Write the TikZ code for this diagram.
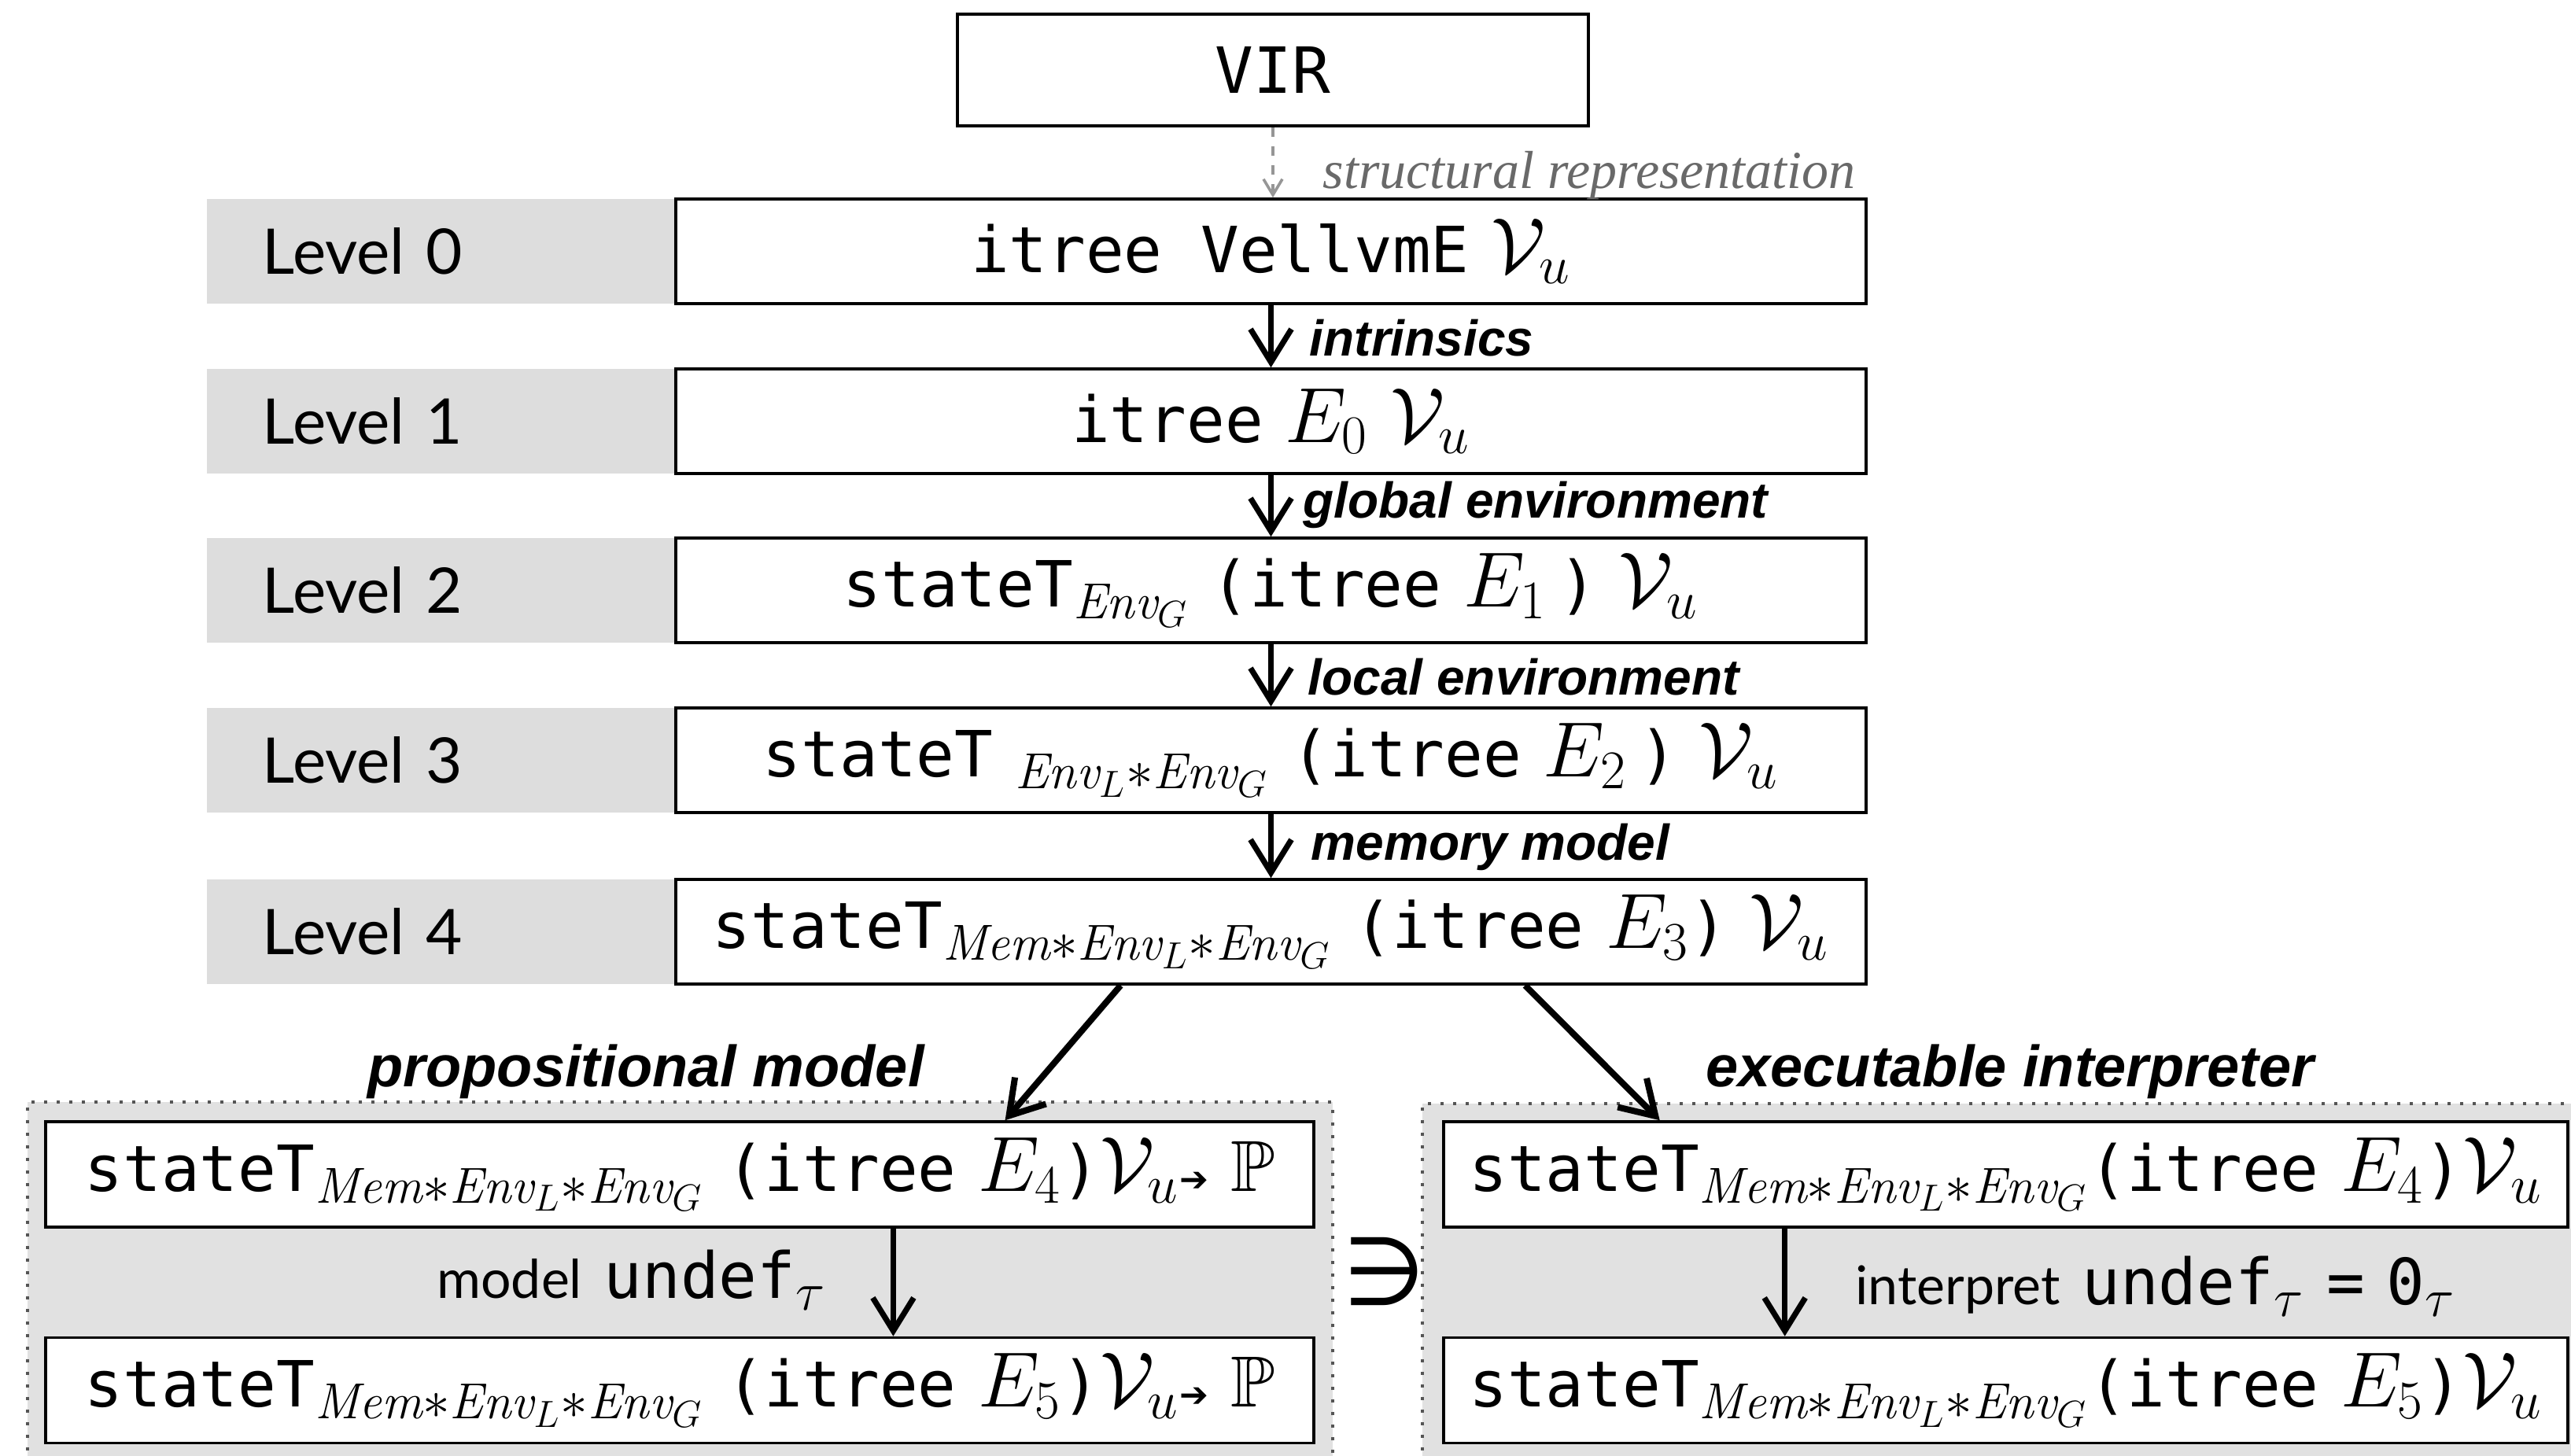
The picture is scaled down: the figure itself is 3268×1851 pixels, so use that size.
\documentclass[tikz,border=0pt]{standalone}
\usepackage{fontspec}
\usepackage{amssymb}
\setmonofont[Scale=0.88]{DejaVu Sans Mono}
\newfontfamily\lvlfont{Lato}
\newfontfamily\arlfont{Liberation Sans}
\newfontfamily\srfont{Liberation Serif}
\newfontfamily\symfont{DejaVu Sans}
\usetikzlibrary{arrows.meta,calc}
\definecolor{lvgrey}{RGB}{221,221,221}
\definecolor{rggrey}{RGB}{225,225,225}
\definecolor{dotgrey}{RGB}{85,85,85}
\definecolor{srgrey}{RGB}{105,105,105}
\definecolor{dagrey}{RGB}{150,150,150}
\newcommand{\myVu}{\mathcal{V}_{u}}
\newcommand{\myTT}[1]{\texttt{#1}}
\newcommand{\mySubA}{_{\mathit{Env}_G}}
\newcommand{\mySubB}{_{\mathit{Env}_L\ast\mathit{Env}_G}}
\newcommand{\mySubC}{_{\mathit{Mem}\ast\mathit{Env}_L\ast\mathit{Env}_G}}
\newcommand{\mySmallArr}{{\symfont\fontsize{11}{11}\selectfont ➔}}
\begin{document}
\begin{tikzpicture}[x=0.25pt,y=-0.25pt,
  box/.style={draw=black, line width=0.9pt, fill=white, inner sep=0pt, font=\fontsize{23}{27}\selectfont},
  lvbox/.style={box, minimum width=378.25pt, minimum height=33.25pt},
  lowbox/.style={box, minimum height=33.5pt},
  lvl/.style={fill=lvgrey, anchor=west, minimum height=33.25pt, inner xsep=17.75pt, inner ysep=0pt, text width=113.75pt, align=left, font=\lvlfont\fontsize{20}{24}\selectfont},
  region/.style={fill=rggrey, draw=dotgrey, line width=1pt, dash pattern=on 1pt off 3pt, inner sep=0pt},
  arlab/.style={font=\arlfont\bfseries\itshape\fontsize{16}{19}\selectfont, inner sep=0pt, anchor=west},
  head/.style={font=\arlfont\bfseries\itshape\fontsize{18.5}{22}\selectfont, inner sep=0pt},
  midlab/.style={inner sep=0pt, font=\fontsize{23}{27}\selectfont},
  arr/.style={-{Straight Barb[length=10.5pt,width=13pt]}, line width=1.8pt},
  darr2/.style={-{Straight Barb[length=10.5pt,width=13pt]}, line width=2pt},
  darr/.style={-{Straight Barb[length=5pt,width=6pt]}, line width=0.9pt, dagrey, dashed}
]
\useasboundingbox (0,0) rectangle (3268,1851);

% bottom regions
\node[region, minimum width=414.75pt, minimum height=124.75pt] (regL) at (864.5,1650.5) {};
\node[region, minimum width=373pt, minimum height=124.75pt] (regR) at (2554,1652.5) {};

% top
\node[box, minimum width=200.5pt, minimum height=35.5pt] (vir) at (1618,89) {\myTT{VIR}};

% level labels
\node[lvl] (g0) at (262,319.5) {Level 0};
\node[lvl] (g1) at (262,535.5) {Level 1};
\node[lvl] (g2) at (262,750.5) {Level 2};
\node[lvl] (g3) at (262,966.5) {Level 3};
\node[lvl] (g4) at (262,1184.5) {Level 4};

% level boxes
\node[lvbox] (l0) at (1615.5,319.5) {\myTT{itree VellvmE} $\myVu$};
\node[lvbox] (l1) at (1615.5,535.5) {\myTT{itree} $E_0$ $\myVu$};
\node[lvbox] (l2) at (1615.5,750.5) {\myTT{stateT}$\mySubA$ \myTT{(itree} $E_1$\,\myTT{)} $\myVu$};
\node[lvbox] (l3) at (1615.5,966.5) {\myTT{stateT} $\mySubB$ \myTT{(itree} $E_2$\,\myTT{)} $\myVu$};
\node[lvbox] (l4) at (1615.5,1184.5) {\myTT{stateT}$\mySubC$ \myTT{(itree} $E_3$\myTT{)} $\myVu$};

% lower boxes
\node[lowbox, minimum width=403pt] (pl1) at (864,1493) {\myTT{stateT}$\mySubC$ \myTT{(itree} $E_4$\myTT{)}$\myVu$\mySmallArr\ $\mathbb{P}$};
\node[lowbox, minimum width=403pt] (pl2) at (864,1767.5) {\myTT{stateT}$\mySubC$ \myTT{(itree} $E_5$\myTT{)}$\myVu$\mySmallArr\ $\mathbb{P}$};
\node[lowbox, minimum width=357.25pt] (pr1) at (2549.5,1493) {\myTT{stateT}$\mySubC$\myTT{(itree} $E_4$\myTT{)}$\myVu$};
\node[lowbox, minimum width=357.25pt] (pr2) at (2549.5,1767.5) {\myTT{stateT}$\mySubC$\myTT{(itree} $E_5$\myTT{)}$\myVu$};

% connectors
\draw[darr] (vir.south) -- (vir.south |- l0.north);
\draw[arr] (l0) -- (l1);
\draw[arr] (l1) -- (l2);
\draw[arr] (l2) -- (l3);
\draw[arr] (l3) -- (l4);
\draw[darr2] ($(l4.south west)!0.374!(l4.south east)$) -- ($(pl1.north west)!0.756!(pl1.north east)$);
\draw[darr2] ($(l4.south west)!0.713!(l4.south east)$) -- ($(pr1.north west)!0.193!(pr1.north east)$);
\draw[arr] ($(pl1.south west)!0.668!(pl1.south east)$) -- ($(pl2.north west)!0.668!(pl2.north east)$);
\draw[arr] ($(pr1.south west)!0.304!(pr1.south east)$) -- ($(pr2.north west)!0.304!(pr2.north east)$);

% labels
\node[anchor=base west, inner sep=0pt, text=srgrey, font=\srfont\itshape\fontsize{17}{20}\selectfont] (sr) at (1681,240) {structural representation};
\node[arlab] (t0) at (1664,430) {intrinsics};
\node[arlab] (t1) at (1656,642) {global environment};
\node[arlab] (t2) at (1662,861) {local environment};
\node[arlab] (t3) at (1666,1077) {memory model};
\node[head] (h1) at (821,1362) {propositional model};
\node[head] (h2) at (2555,1362) {executable interpreter};
\node[midlab] (ml) at (803,1627) {{\lvlfont\fontsize{17}{20}\selectfont model}\ \myTT{undef}$_\tau$};
\node[midlab] (il) at (2740,1635) {{\lvlfont\fontsize{17}{20}\selectfont interpret}\ \myTT{undef}$_\tau$ \myTT{=} \myTT{0}$_\tau$};
\node[inner sep=0pt, font=\symfont\fontsize{30}{30}\selectfont] (ni) at (1760,1616) {∋};
\end{tikzpicture}
\end{document}
